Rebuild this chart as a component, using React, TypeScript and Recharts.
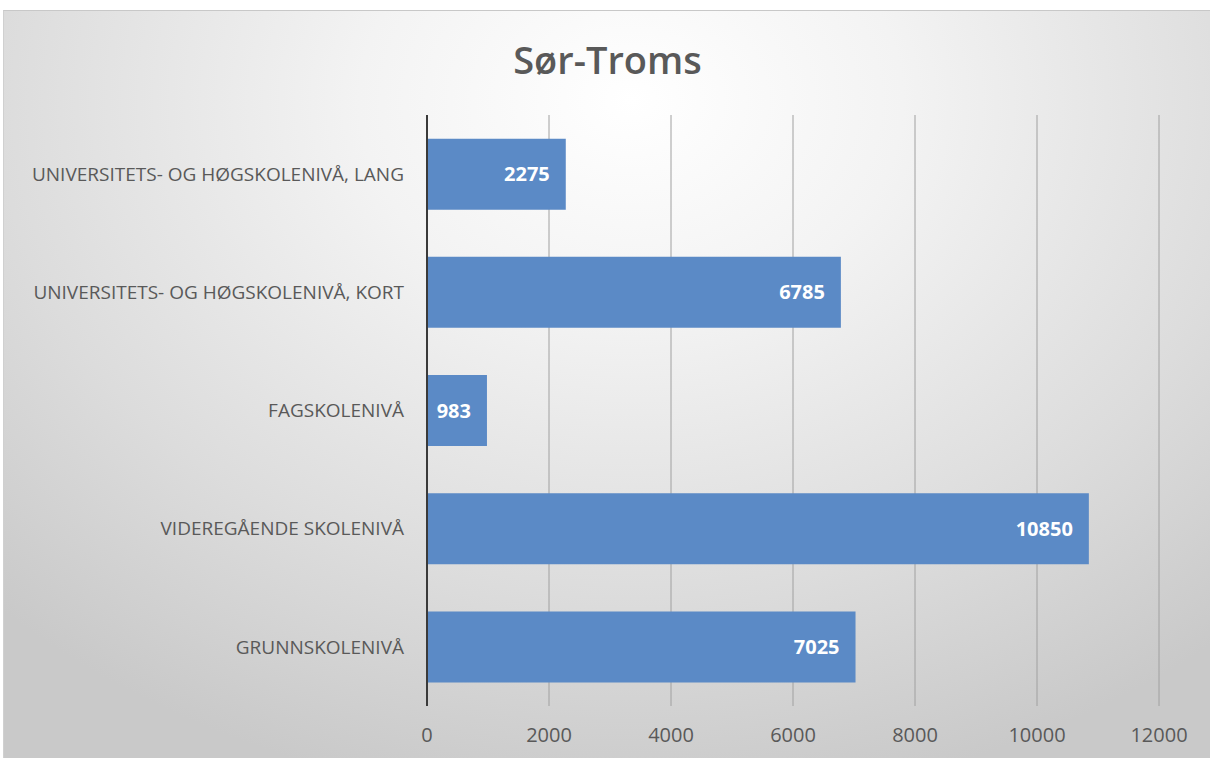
import React from "react";
import { BarChart, Bar, XAxis, YAxis, CartesianGrid, LabelList } from "recharts";

const categories = [
  "UNIVERSITETS- OG HØGSKOLENIVÅ, LANG",
  "UNIVERSITETS- OG HØGSKOLENIVÅ, KORT",
  "FAGSKOLENIVÅ",
  "VIDEREGÅENDE SKOLENIVÅ",
  "GRUNNSKOLENIVÅ",
];
const values = [2275, 6785, 983, 10850, 7025];
const xTicks = [0, 2000, 4000, 6000, 8000, 10000, 12000];

const data = categories.map((name, i) => ({ name, value: values[i] }));

const FONT = "'Open Sans', Lato, sans-serif";

export default function App() {
  return (
    <div
      style={{
        position: "absolute",
        left: 0,
        top: 0,
        width: 1210,
        height: 758,
        background: "#ffffff",
        overflow: "hidden",
      }}
    >
      <div
        style={{
          position: "absolute",
          left: 3,
          top: 10,
          width: 1207,
          height: 748,
          borderTop: "1px solid #c8c8c8",
          borderLeft: "1px solid #d0d0d0",
          boxSizing: "border-box",
          background:
            "radial-gradient(ellipse 75% 95% at 52% 12%, #ffffff 0%, #f3f3f3 30%, #dcdcdc 70%, #c9c9c9 100%)",
        }}
      >
        <div
          style={{
            position: "absolute",
            left: 0,
            width: 1207,
            top: 29,
            lineHeight: 1,
            textAlign: "center",
            fontFamily: FONT,
            fontWeight: 600,
            fontSize: 38,
            color: "#595959",
          }}
        >
          Sør-Troms
        </div>
        <BarChart
          width={1207}
          height={748}
          data={data}
          layout="vertical"
          margin={{ top: 104, right: 52, bottom: 10, left: 0 }}
          barCategoryGap="20%"
          style={{ position: "absolute", left: 0, top: 0 }}
        >
          <CartesianGrid horizontal={false} vertical stroke="#a0a0a0" strokeWidth={1} />
          <XAxis
            type="number"
            domain={[0, 12000]}
            ticks={xTicks}
            axisLine={false}
            tickLine={false}
            height={43}
            tickMargin={16}
            tick={{ fill: "#595959", fontSize: 20, fontFamily: FONT }}
          />
          <YAxis
            type="category"
            dataKey="name"
            width={423}
            axisLine={{ stroke: "#3a3a3a", strokeWidth: 2 }}
            tickLine={false}
            tickMargin={17}
            tick={{ fill: "#595959", fontSize: 19, fontFamily: FONT }}
          />
          <Bar dataKey="value" fill="#5b8ac6" isAnimationActive={false}>
            <LabelList
              dataKey="value"
              position="insideRight"
              offset={16}
              fill="#ffffff"
              style={{ fontFamily: FONT, fontWeight: 700, fontSize: 20 }}
            />
          </Bar>
        </BarChart>
      </div>
    </div>
  );
}
